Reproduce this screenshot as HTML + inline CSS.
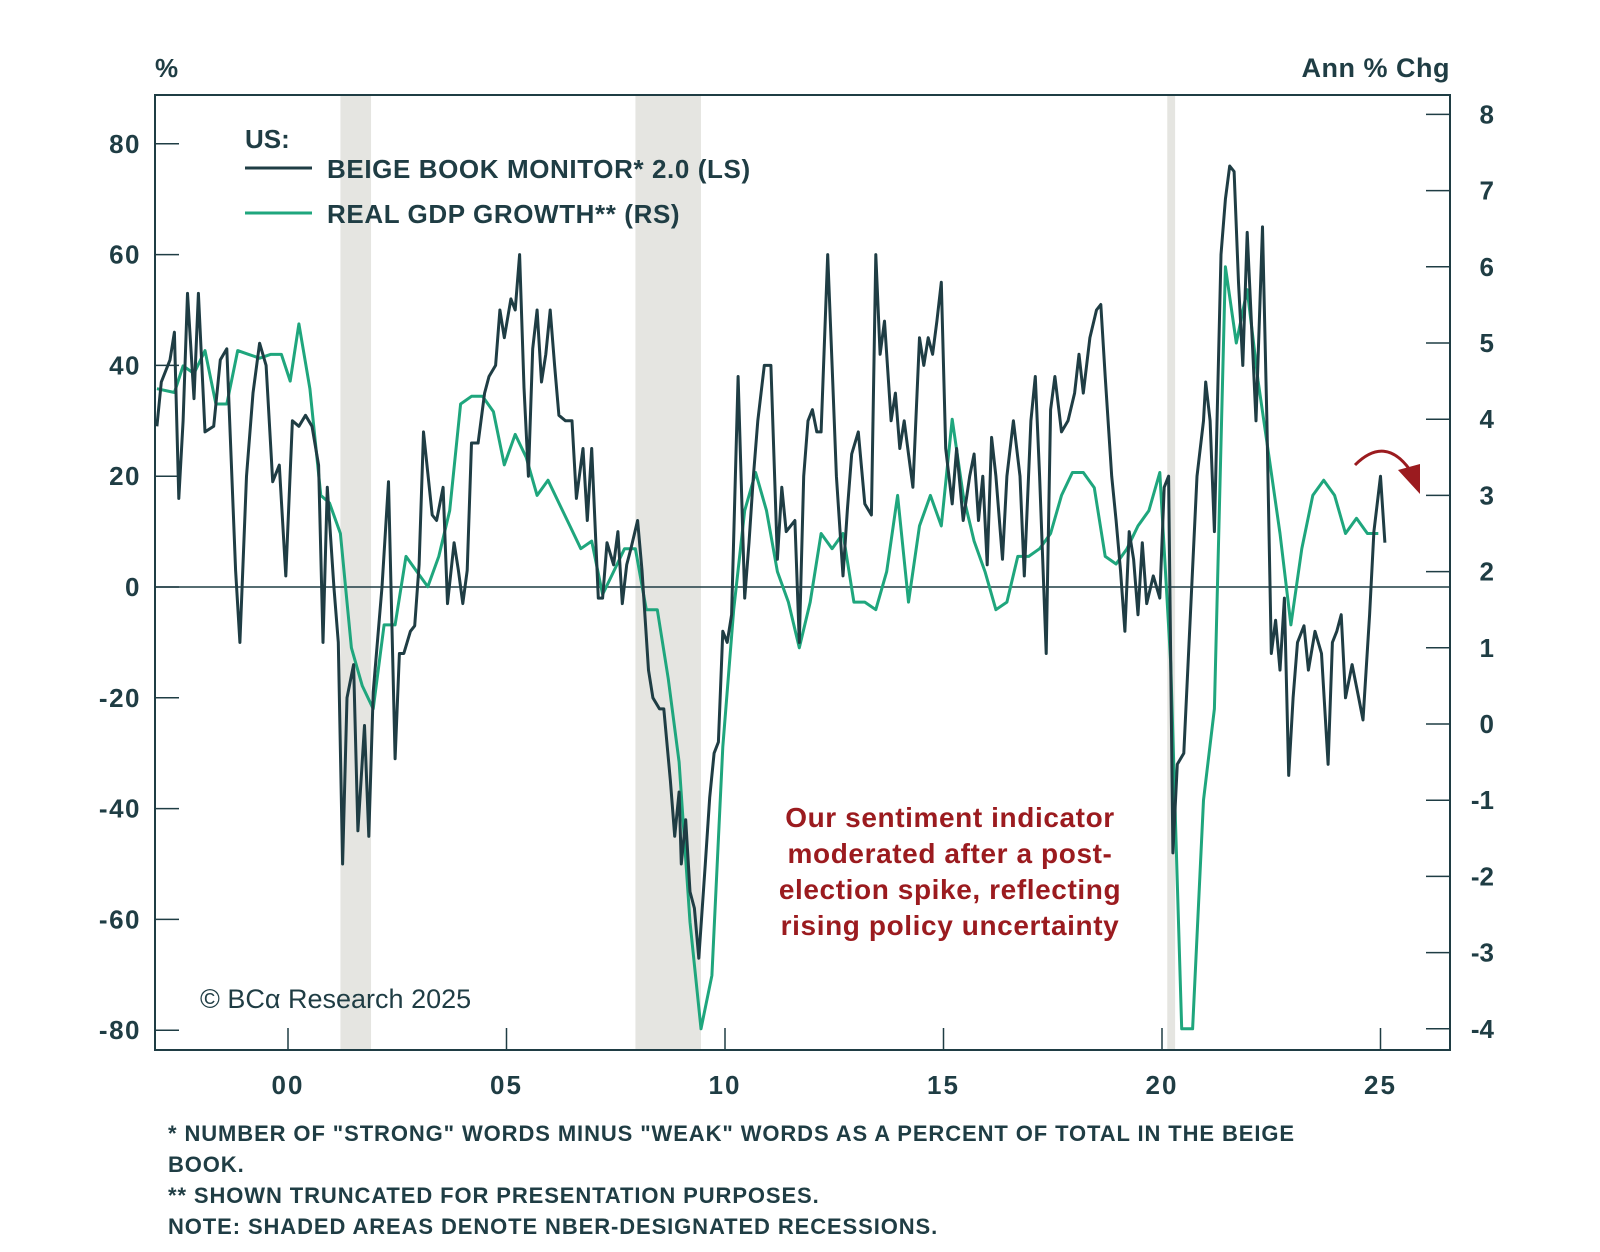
<!DOCTYPE html>
<html><head><meta charset="utf-8"><style>
body{margin:0;background:#fff;width:1600px;height:1247px;overflow:hidden;font-family:"Liberation Sans",sans-serif}
svg text{font-family:"Liberation Sans",sans-serif}
</style></head><body>
<svg id="chart" width="1600" height="1247" viewBox="0 0 1600 1247" xmlns="http://www.w3.org/2000/svg">
<g id="g"></g>
</svg>
<script>
const recessions=[[2001.2,2001.9],[2007.95,2009.45],[2020.12,2020.3]];
const leftTicks=[80,60,40,20,0,-20,-40,-60,-80];
const rightTicks=[8,7,6,5,4,3,2,1,0,-1,-2,-3,-4];
const xTickYears=[2000,2005,2010,2015,2020,2025];
const xTickLabels=["00","05","10","15","20","25"];
const beigeYears=[1997.0,1997.1,1997.3,1997.4,1997.5,1997.6,1997.7,1997.85,1997.95,1998.1,1998.3,1998.45,1998.6,1998.8,1998.9,1999.05,1999.2,1999.35,1999.5,1999.65,1999.8,1999.95,2000.1,2000.25,2000.4,2000.55,2000.7,2000.8,2000.9,2001.05,2001.15,2001.25,2001.35,2001.5,2001.6,2001.75,2001.85,2001.95,2002.15,2002.3,2002.45,2002.55,2002.65,2002.8,2002.9,2003.0,2003.1,2003.3,2003.4,2003.55,2003.65,2003.8,2003.9,2004.0,2004.1,2004.2,2004.35,2004.5,2004.6,2004.75,2004.85,2004.95,2005.1,2005.2,2005.3,2005.4,2005.5,2005.6,2005.7,2005.8,2005.9,2006.0,2006.1,2006.2,2006.35,2006.5,2006.6,2006.75,2006.85,2006.95,2007.1,2007.2,2007.3,2007.45,2007.55,2007.65,2007.75,2007.85,2008.0,2008.1,2008.25,2008.35,2008.5,2008.6,2008.75,2008.85,2008.95,2009.0,2009.1,2009.2,2009.3,2009.4,2009.55,2009.65,2009.75,2009.85,2009.95,2010.05,2010.15,2010.3,2010.45,2010.55,2010.65,2010.75,2010.9,2011.05,2011.2,2011.3,2011.4,2011.6,2011.7,2011.8,2011.9,2012.0,2012.1,2012.2,2012.35,2012.45,2012.55,2012.7,2012.8,2012.9,2013.05,2013.2,2013.35,2013.45,2013.55,2013.65,2013.8,2013.9,2014.0,2014.1,2014.2,2014.3,2014.45,2014.55,2014.65,2014.75,2014.85,2014.95,2015.05,2015.2,2015.3,2015.45,2015.6,2015.7,2015.8,2015.9,2016.0,2016.1,2016.2,2016.35,2016.45,2016.6,2016.75,2016.85,2017.0,2017.1,2017.2,2017.35,2017.45,2017.55,2017.7,2017.85,2018.0,2018.1,2018.2,2018.35,2018.5,2018.6,2018.7,2018.85,2018.95,2019.05,2019.15,2019.25,2019.35,2019.45,2019.55,2019.65,2019.8,2019.95,2020.05,2020.15,2020.25,2020.35,2020.5,2020.65,2020.8,2020.95,2021.0,2021.1,2021.2,2021.35,2021.45,2021.55,2021.65,2021.75,2021.85,2021.95,2022.05,2022.15,2022.3,2022.4,2022.5,2022.6,2022.7,2022.8,2022.9,2023.0,2023.1,2023.25,2023.35,2023.5,2023.65,2023.8,2023.9,2024.0,2024.1,2024.2,2024.35,2024.5,2024.6,2024.75,2024.85,2025.0,2025.1];
const beigeValues=[29,37,41,46,16,30,53,34,53,28,29,41,43,3,-10,20,35,44,40,19,22,2,30,29,31,29,22,-10,18,0,-10,-50,-20,-14,-44,-25,-45,-19,0,19,-31,-12,-12,-8,-7,4,28,13,12,18,-3,8,3,-3,3,26,26,35,38,40,50,45,52,50,60,36,20,43,50,37,42,50,40,31,30,30,16,25,12,25,-2,-2,8,4,10,-3,4,7,12,3,-15,-20,-22,-22,-35,-45,-37,-50,-42,-55,-58,-67,-50,-38,-30,-28,-8,-10,-5,38,-2,8,20,30,40,40,5,18,10,12,-10,20,30,32,28,28,60,40,20,2,14,24,28,15,13,60,42,48,30,35,25,30,24,18,45,40,45,42,48,55,25,15,25,12,20,24,12,20,4,27,20,5,20,30,20,2,30,38,20,-12,32,38,28,30,35,42,35,45,50,51,38,20,12,3,-8,10,5,-5,8,-3,2,-2,18,20,-48,-32,-30,-5,20,30,37,30,10,60,70,76,75,55,40,64,47,30,65,30,-12,-6,-15,-2,-34,-20,-10,-7,-15,-8,-12,-32,-10,-8,-5,-20,-14,-20,-24,-5,10,20,8];
const gdpYears=[1997.0,1997.4,1997.6,1997.85,1998.1,1998.35,1998.6,1998.85,1999.1,1999.35,1999.6,1999.85,2000.05,2000.25,2000.5,2000.75,2000.95,2001.2,2001.45,2001.7,2001.95,2002.2,2002.45,2002.7,2002.95,2003.2,2003.45,2003.7,2003.95,2004.2,2004.45,2004.7,2004.95,2005.2,2005.45,2005.7,2005.95,2006.2,2006.45,2006.7,2006.95,2007.2,2007.45,2007.7,2007.95,2008.2,2008.45,2008.7,2008.95,2009.2,2009.45,2009.7,2009.95,2010.2,2010.45,2010.7,2010.95,2011.2,2011.45,2011.7,2011.95,2012.2,2012.45,2012.7,2012.95,2013.2,2013.45,2013.7,2013.95,2014.2,2014.45,2014.7,2014.95,2015.2,2015.45,2015.7,2015.95,2016.2,2016.45,2016.7,2016.95,2017.2,2017.45,2017.7,2017.95,2018.2,2018.45,2018.7,2018.95,2019.2,2019.45,2019.7,2019.95,2020.2,2020.45,2020.7,2020.95,2021.2,2021.45,2021.7,2021.95,2022.2,2022.45,2022.7,2022.95,2023.2,2023.45,2023.7,2023.95,2024.2,2024.45,2024.7,2024.95];
const gdpValues=[4.4,4.35,4.7,4.6,4.9,4.2,4.2,4.9,4.85,4.8,4.85,4.85,4.5,5.25,4.4,3.0,2.9,2.5,1.0,0.5,0.2,1.3,1.3,2.2,2.0,1.8,2.2,2.8,4.2,4.3,4.3,4.1,3.4,3.8,3.5,3.0,3.2,2.9,2.6,2.3,2.4,1.7,2.0,2.3,2.3,1.5,1.5,0.6,-0.5,-2.6,-4.0,-3.3,-0.3,1.5,2.8,3.3,2.8,2.0,1.6,1.0,1.6,2.5,2.3,2.5,1.6,1.6,1.5,2.0,3.0,1.6,2.6,3.0,2.6,4.0,3.0,2.4,2.0,1.5,1.6,2.2,2.2,2.3,2.5,3.0,3.3,3.3,3.1,2.2,2.1,2.3,2.6,2.8,3.3,0.8,-4.0,-4.0,-1.0,0.2,6.0,5.0,5.7,4.5,3.5,2.5,1.3,2.3,3.0,3.2,3.0,2.5,2.7,2.5,2.5];

const L=155,R=1450,T=95,B=1050;
const x=yr=>288+(yr-2000)*43.7;
const yL=v=>587-v*5.54;
const yR=v=>724-v*76.2;
const g=document.getElementById('g');
const NS='http://www.w3.org/2000/svg';
function mk(tag,attrs,parent){const e=document.createElementNS(NS,tag);for(const k in attrs)e.setAttribute(k,attrs[k]);(parent||g).appendChild(e);return e;}
function txt(s,attrs){const e=mk('text',attrs);e.textContent=s;return e;}

recessions.forEach(r=>{
 const e=mk('rect',{x:x(r[0]),y:T,width:x(r[1])-x(r[0]),height:B-T,fill:'#e5e5e1'});
 
 
});
const zl=mk('line',{x1:L,x2:R,y1:yL(0),y2:yL(0),stroke:'#1f3d44','stroke-width':1.5});


const fr=mk('rect',{x:L,y:T,width:R-L,height:B-T,fill:'none',stroke:'#1f3d44','stroke-width':2});



leftTicks.forEach(v=>{
 mk('line',{x1:L,x2:L+24,y1:yL(v),y2:yL(v),stroke:'#1f3d44','stroke-width':1.5});
 const t=txt(v,{x:141,y:yL(v)+9,'text-anchor':'end','font-size':26,'font-weight':'bold',fill:'#1f3d44','letter-spacing':1.5});
 
 
});
rightTicks.forEach(v=>{
 mk('line',{x1:R-24,x2:R,y1:yR(v),y2:yR(v),stroke:'#1f3d44','stroke-width':1.5});
 const t=txt(v,{x:1494,y:yR(v)+9,'text-anchor':'end','font-size':26,'font-weight':'bold',fill:'#1f3d44'});
 
 
});
xTickYears.forEach((yr,i)=>{
 mk('line',{x1:x(yr),x2:x(yr),y1:B-22,y2:B,stroke:'#1f3d44','stroke-width':1.5});
 const t=txt(xTickLabels[i],{x:x(yr),y:1094,'text-anchor':'middle','font-size':26,'font-weight':'bold',fill:'#1f3d44','letter-spacing':2});
 
 
});

const gd=gdpYears.map((yr,i)=>(i?'L':'M')+x(yr).toFixed(1)+' '+yR(gdpValues[i]).toFixed(1)).join('');
const gp=mk('path',{d:gd,fill:'none',stroke:'#1fa67d','stroke-width':3,'stroke-linejoin':'round'});


const bd=beigeYears.map((yr,i)=>(i?'L':'M')+x(yr).toFixed(1)+' '+yL(beigeValues[i]).toFixed(1)).join('');
const bp=mk('path',{d:bd,fill:'none',stroke:'#1f3d44','stroke-width':3,'stroke-linejoin':'round'});



let t;
t=txt('%',{x:155,y:77,'font-size':26,'font-weight':'bold',fill:'#1f3d44'});

t=txt('Ann % Chg',{x:1450,y:77,'text-anchor':'end','font-size':27,'font-weight':'bold',fill:'#1f3d44','letter-spacing':0.5});

t=txt('US:',{x:245,y:148,'font-size':26,'font-weight':'bold',fill:'#1f3d44'});

mk('line',{x1:245,x2:312,y1:168,y2:168,stroke:'#1f3d44','stroke-width':3});
t=txt('BEIGE BOOK MONITOR* 2.0 (LS)',{x:327,y:178,'font-size':26,'font-weight':'bold',fill:'#1f3d44','letter-spacing':0.6});

mk('line',{x1:245,x2:312,y1:213,y2:213,stroke:'#1fa67d','stroke-width':3});
t=txt('REAL GDP GROWTH** (RS)',{x:327,y:223,'font-size':26,'font-weight':'bold',fill:'#1f3d44','letter-spacing':0.6});


const ann=['Our sentiment indicator','moderated after a post-','election spike, reflecting','rising policy uncertainty'];
ann.forEach((s,i)=>{t=txt(s,{x:950,y:827+i*36,'text-anchor':'middle','font-size':28,'font-weight':'bold',fill:'#9b1b1f','letter-spacing':0.6});
 });
const ar=mk('path',{d:'M1355 465 Q1385 435 1410 470',fill:'none',stroke:'#9b1b1f','stroke-width':3});

mk('path',{d:'M1398 470 L1420 494 L1420 464 Z',fill:'#9b1b1f'});

t=txt('© BCα Research 2025',{x:200,y:1008,'font-size':27,fill:'#1f3d44','font-family':'Liberation Serif, serif'});

const notes=['* NUMBER OF "STRONG" WORDS MINUS "WEAK" WORDS AS A PERCENT OF TOTAL IN THE BEIGE','BOOK.','** SHOWN TRUNCATED FOR PRESENTATION PURPOSES.','NOTE: SHADED AREAS DENOTE NBER-DESIGNATED RECESSIONS.'];
notes.forEach((s,i)=>{t=txt(s,{x:168,y:1141+i*31,'font-size':22,'font-weight':'bold',fill:'#1f3d44','letter-spacing':0.9});
 });
</script>
</body></html>
